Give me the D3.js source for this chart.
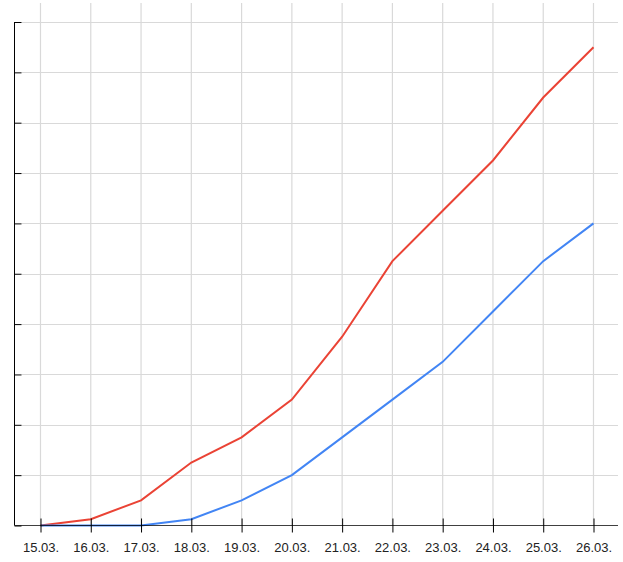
<!DOCTYPE html>
<html>
<head>
<meta charset="utf-8">
<script src="https://cdn.jsdelivr.net/npm/d3@7"></script>
<style>
  body { margin: 0; background: #fff; }
  svg { display: block; font-family: "Liberation Sans", Arial, sans-serif; }
  .grid line { stroke: #d9d9d9; stroke-width: 1.2; }
  .axis path, .axis line { stroke: #000; }
  .axis text { fill: #222; font-size: 13px; }
</style>
</head>
<body>
<script>
// dates on the x axis
var dates = ["15.03.", "16.03.", "17.03.", "18.03.", "19.03.", "20.03.",
             "21.03.", "22.03.", "23.03.", "24.03.", "25.03.", "26.03."];
// red series
var redValues = [0, 1.25, 5, 12.5, 17.5, 25, 37.5, 52.5, 62.5, 72.5, 85, 95];
// blue series
var blueValues = [0, 0, 0, 1.25, 5, 10, 17.5, 25, 32.5, 42.5, 52.5, 60];
// y ticks (no labels shown)
var yTicks = [0, 10, 20, 30, 40, 50, 60, 70, 80, 90, 100];

var width = 623, height = 562;
var axisX = 14.5, axisY = 525.5, rightEdge = 618, gridTop = 3;

var svg = d3.select("body").append("svg")
    .attr("width", width)
    .attr("height", height);

var x = d3.scalePoint().domain(dates).range([40.5, 593.5]);
var y = d3.scaleLinear().domain([0, 100]).range([axisY, 22]);

// grid
var grid = svg.append("g").attr("class", "grid");
grid.selectAll(".vgrid")
    .data(dates)
    .enter().append("line")
    .attr("x1", d => x(d)).attr("x2", d => x(d))
    .attr("y1", gridTop).attr("y2", axisY);
grid.selectAll(".hgrid")
    .data(yTicks.slice(1))
    .enter().append("line")
    .attr("x1", axisX + 7).attr("x2", rightEdge)
    .attr("y1", d => Math.round(y(d)) + 0.5).attr("y2", d => Math.round(y(d)) + 0.5);

// lines
var line = d3.line().x((d, i) => x(dates[i])).y(d => y(d));

svg.append("path")
    .datum(redValues)
    .attr("fill", "none")
    .attr("stroke", "#ea4335")
    .attr("stroke-width", 2)
    .attr("d", line);

svg.append("path")
    .datum(blueValues)
    .attr("fill", "none")
    .attr("stroke", "#4285f4")
    .attr("stroke-width", 2)
    .attr("d", line);

// x axis
var gx = svg.append("g")
    .attr("class", "axis")
    .attr("transform", `translate(0, ${axisY})`)
    .call(d3.axisBottom(x).tickSizeOuter(0).tickSizeInner(7).tickPadding(10));
gx.select(".domain").attr("d", `M${axisX},0H${rightEdge}`).attr("stroke-opacity", 0.75);
gx.selectAll(".tick line").attr("y1", -7);
gx.selectAll(".tick text").attr("y", 17);

// y axis
var gy = svg.append("g")
    .attr("class", "axis")
    .attr("transform", `translate(${axisX}, 0)`)
    .call(d3.axisLeft(y).tickValues(yTicks).tickSizeOuter(0).tickSizeInner(7).tickFormat(""));
gy.select(".domain").attr("d", `M0,${y(100)}V${axisY}`);
gy.selectAll(".tick line").attr("x2", 7).attr("stroke", "#333");
</script>
</body>
</html>
